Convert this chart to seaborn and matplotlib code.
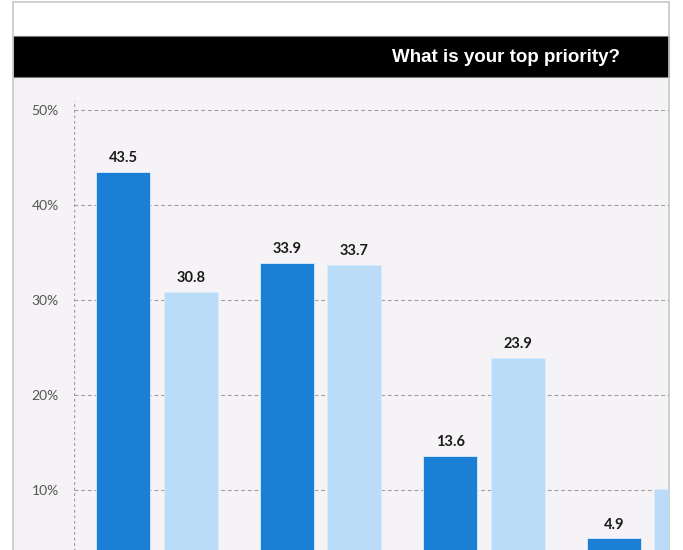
import matplotlib
matplotlib.use("Agg")
import matplotlib.pyplot as plt
import matplotlib.patches as mpatches
import matplotlib.lines as mlines
from matplotlib.ticker import FuncFormatter
import seaborn as sns
import pandas as pd

# ---- data ----
categories = ["Option 1", "Option 2", "Option 3", "Option 4"]
series_names = ["Group A", "Group B"]
values_a = [43.5, 33.9, 13.6, 4.9]
values_b = [30.8, 33.7, 23.9, 10.1]
yticks = [10, 20, 30, 40, 50]
title = "What is your top priority?"

dark_blue = "#1b7fd5"
light_blue = "#badcf8"
panel_bg = "#f6f3f6"

df = pd.DataFrame({
    "category": categories * 2,
    "series": [series_names[0]] * 4 + [series_names[1]] * 4,
    "value": values_a + values_b,
})

sns.set_theme(style="white")
plt.rcParams["font.family"] = ["Lato", "DejaVu Sans"]

W, H = 683, 550
fig = plt.figure(figsize=(W / 100, H / 100), dpi=100)
fig.patch.set_facecolor("white")

def fx(px):
    return px / W

def fy(py):
    return 1 - py / H

# panel background and title band
fig.patches.append(mpatches.Rectangle((fx(13), fy(550)), fx(669) - fx(13), fy(77) - fy(550),
                                      transform=fig.transFigure, facecolor=panel_bg,
                                      edgecolor="none", zorder=0))
fig.patches.append(mpatches.Rectangle((fx(13), fy(77)), fx(669) - fx(13), fy(36) - fy(77),
                                      transform=fig.transFigure, facecolor="black",
                                      edgecolor="#777777", linewidth=0.8, zorder=1))
# outer frame lines
for xs, ys in [([13, 669], [2, 2]), ([13, 13], [2, 550]), ([669, 669], [2, 550])]:
    fig.lines.append(mlines.Line2D([fx(x) for x in xs], [fy(y) for y in ys],
                                   transform=fig.transFigure, color="#c8c8c8",
                                   linewidth=1.2, zorder=2))

fig.text(fx(620), fy(57), title, ha="right", va="center", color="white",
         fontsize=13.5, fontweight="bold", family=["Liberation Sans", "DejaVu Sans"])

# axes geometry: 0% at y=585px, 10% per 95px
ymax = 51
zero_px = 585
px_per_unit = 9.5
top_px = zero_px - ymax * px_per_unit
ax_left, ax_right = 74, 669
ax = fig.add_axes([fx(ax_left), fy(zero_px), fx(ax_right) - fx(ax_left), fy(top_px) - fy(zero_px)])
ax.set_facecolor("none")
ax.set_zorder(5)

sns.barplot(data=df, x="category", y="value", hue="series",
            palette=[dark_blue, light_blue], saturation=1, width=0.826, gap=0.2,
            ax=ax, legend=False, edgecolor="#d8ecfb", linewidth=0.6, zorder=3)

grp_px = 163.5
x0 = -(157 - ax_left) / grp_px
ax.set_xlim(x0, x0 + (ax_right - ax_left) / grp_px)
ax.set_ylim(0, ymax)

# gridlines
for t in yticks:
    ax.axhline(t, color="#a0a0a0", linewidth=0.8, linestyle=(0, (3.5, 2.5)), zorder=1)
ax.set_yticks(yticks)
ax.yaxis.set_major_formatter(FuncFormatter(lambda v, p: f"{int(v)}%"))
ax.tick_params(axis="y", length=0, pad=11, labelsize=10, labelcolor="#555555")
ax.tick_params(axis="x", length=0, labelbottom=False)
ax.set_xlabel("")
ax.set_ylabel("")

for s in ["top", "right", "bottom", "left"]:
    ax.spines[s].set_visible(False)
ax.axvline(x0, color="#a0a0a0", linewidth=1.0, linestyle=(0, (2, 2)), zorder=1)

for cont in ax.containers:
    labels = ax.bar_label(cont, fmt="%.1f", padding=5, fontsize=10.5, fontweight="bold",
                          color="#1a1a1a")
    for lb in labels:
        lb.set_clip_on(True)

fig.savefig("out.png", dpi=100)
